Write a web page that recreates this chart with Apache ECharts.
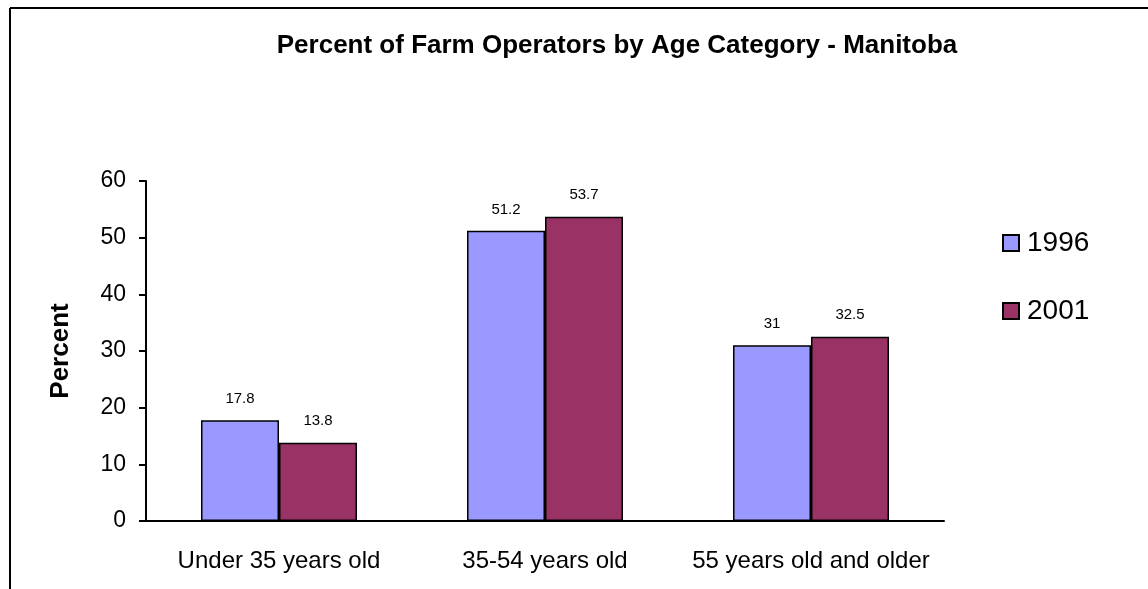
<!DOCTYPE html>
<html>
<head>
<meta charset="UTF-8">
<title>Percent of Farm Operators by Age Category - Manitoba</title>
<script src="https://cdn.jsdelivr.net/npm/echarts@6/dist/echarts.min.js"></script>
<style>
  html, body { margin: 0; padding: 0; background: #fff; }
  #main { width: 1148px; height: 589px; }
</style>
</head>
<body>
<div id="main"></div>
<script type="text/javascript">
// data
var categories = ['Under 35 years old', '35-54 years old', '55 years old and older'];
var data1996 = [17.8, 51.2, 31];
var data2001 = [13.8, 53.7, 32.5];
var yTicks = [0, 10, 20, 30, 40, 50, 60];

var font = '"Liberation Sans", Arial, sans-serif';
var myChart = echarts.init(document.getElementById('main'));

function barSeries(name, color, values) {
    return {
        name: name,
        type: 'bar',
        barWidth: 78,
        barGap: '0%',
        itemStyle: { color: color, borderColor: '#000', borderWidth: 1.5 },
        label: {
            show: true,
            position: 'top',
            distance: 14,
            color: '#000',
            fontFamily: font,
            fontSize: 15
        },
        data: values
    };
}

var option = {
    backgroundColor: '#fff',
    animation: false,
    title: {
        text: 'Percent of Farm Operators by Age Category - Manitoba',
        left: 612,
        textAlign: 'center',
        top: 28,
        textStyle: { fontFamily: font, fontSize: 26, fontWeight: 'bold', color: '#000' }
    },
    legend: {
        orient: 'vertical',
        left: 997,
        top: 224,
        itemWidth: 16,
        itemHeight: 16,
        itemGap: 40,
        icon: 'rect',
        textStyle: { fontFamily: font, fontSize: 28, color: '#000', padding: [0, 0, 0, 3] },
        data: ['1996', '2001']
    },
    grid: { left: 146, right: 204, top: 181, bottom: 68 },
    xAxis: {
        type: 'category',
        data: categories,
        axisLine: { lineStyle: { color: '#000', width: 2 } },
        axisTick: { length: 8, lineStyle: { color: '#000', width: 2 } },
        axisLabel: { interval: 0, hideOverlap: false, color: '#000', fontFamily: font, fontSize: 24, margin: 28 }
    },
    yAxis: {
        type: 'value',
        min: yTicks[0],
        max: yTicks[yTicks.length - 1],
        interval: 10,
        name: 'Percent',
        nameLocation: 'middle',
        nameRotate: 90,
        nameGap: 72,
        nameTextStyle: { fontFamily: font, fontSize: 26, fontWeight: 'bold', color: '#000' },
        axisLine: { show: true, lineStyle: { color: '#000', width: 2 } },
        axisTick: { show: true, length: 7, lineStyle: { color: '#000', width: 2 } },
        splitLine: { show: false },
        axisLabel: { color: '#000', fontFamily: font, fontSize: 23, margin: 20 }
    },
    graphic: [
        { type: 'line', shape: { x1: 10, y1: 8, x2: 1148, y2: 8 }, style: { stroke: '#000', lineWidth: 2 } },
        { type: 'line', shape: { x1: 10, y1: 8, x2: 10, y2: 589 }, style: { stroke: '#000', lineWidth: 2 } }
    ],
    series: [
        barSeries('1996', '#9999FF', data1996),
        barSeries('2001', '#993366', data2001)
    ]
};
myChart.setOption(option);
</script>
</body>
</html>
